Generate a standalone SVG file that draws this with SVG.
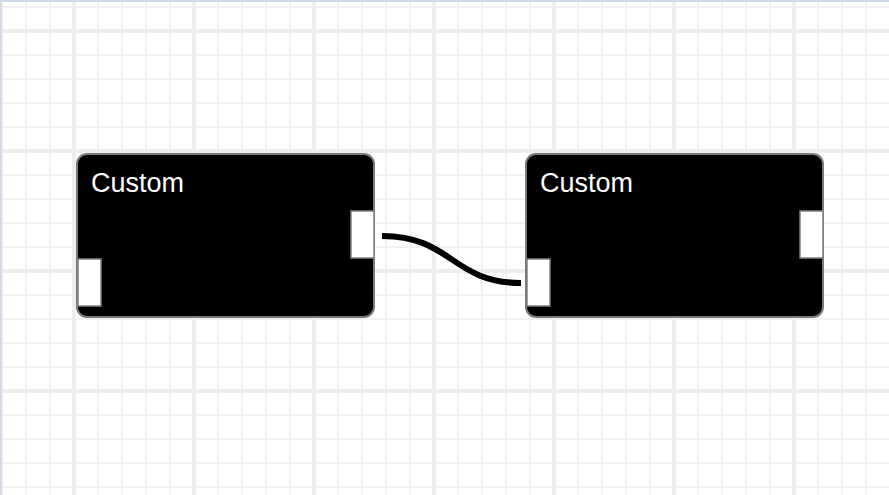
<svg xmlns="http://www.w3.org/2000/svg" width="889" height="495" viewBox="0 0 889 495">
  <defs>
    <pattern id="minor" patternUnits="userSpaceOnUse" x="-10" y="-5" width="24" height="24">
      <path d="M12 0V24M0 12H24" stroke="#f2f2f2" stroke-width="2" fill="none"/>
    </pattern>
    <pattern id="major" patternUnits="userSpaceOnUse" x="14" y="-29" width="120" height="120">
      <path d="M60 0V120M0 60H120" stroke="#eeeeee" stroke-width="4" fill="none"/>
    </pattern>
  </defs>
  <style>
    .node { fill: #000000; stroke: #7a7a7a; stroke-width: 2; }
    .port { fill: #ffffff; stroke: #808080; stroke-width: 1.5; }
    .label { font-family: "Liberation Sans", Arial, sans-serif; font-size: 27px; fill: #ffffff; }
    .edge { fill: none; stroke: #000000; stroke-width: 6; }
  </style>
  <rect x="0" y="0" width="889" height="495" fill="#ffffff"/>
  <rect x="0" y="0" width="889" height="495" fill="url(#minor)"/>
  <rect x="0" y="0" width="889" height="495" fill="url(#major)"/>
  <path d="M1 495V1H889" stroke="#d3dae8" stroke-width="2" fill="none"/>
  <g id="connectors">
    <path class="edge" d="M382 236C452 236 452 283 521 283"/>
  </g>
  <g id="node1">
    <rect class="node" x="77" y="154" width="297" height="163" rx="10"/>
    <text class="label" x="91" y="192">Custom</text>
    <rect class="port" x="351" y="211" width="23" height="47"/>
    <rect class="port" x="78" y="259" width="23" height="47"/>
  </g>
  <g id="node2">
    <rect class="node" x="526" y="154" width="297" height="163" rx="10"/>
    <text class="label" x="540" y="192">Custom</text>
    <rect class="port" x="800" y="211" width="23" height="47"/>
    <rect class="port" x="527" y="259" width="23" height="47"/>
  </g>
</svg>
